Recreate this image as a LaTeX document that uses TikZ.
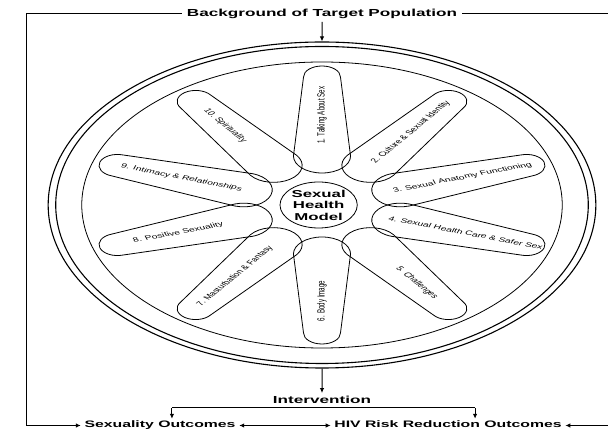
\documentclass[tikz,border=0pt]{standalone}
\usepackage{fontspec}
\setmainfont{Liberation Sans}
\usetikzlibrary{arrows.meta}

\begin{document}
\begin{tikzpicture}[
    x=1pt, y=1pt, xscale=1.68,
    every node/.style={transform shape, inner sep=2pt},
    heading/.style={font=\bfseries\fontsize{10.2}{12}\selectfont, inner sep=3pt},
    outcome/.style={font=\bfseries\fontsize{9.4}{11}\selectfont,
        text height=7pt, text depth=2pt},
    rimline/.style={circle, draw, inner sep=0pt, line width=1.1pt},
    petal/.style={draw, line width=0.8pt},
    petaltext/.style={font=\fontsize{6.2}{7}\selectfont, inner sep=0pt},
    hub/.style={circle, draw, line width=0.8pt, minimum size=46pt, inner sep=0pt,
        align=center, font=\bfseries\fontsize{10}{11.5}\selectfont},
    link/.style={line width=1pt},
    >={Latex[length=5pt,width=4.5pt]}
]
\useasboundingbox (-191.67,-225) rectangle (170.24,205);

% wheel: double rim, inner ring and hub
\node[rimline, minimum size=326pt] (rim) at (0,0) {};
\node[rimline, minimum size=317pt] (rim2) at (0,0) {};
\node[circle, draw, inner sep=0pt, line width=0.8pt, minimum size=286pt] (ring) at (0,0) {};
\node[hub] (hub) at (-2,0) {Sexual\\Health\\Model};

% the ten petals, wide at the hub and narrow at the rim
\foreach \ang/\rot/\tpos/\txt [count=\i] in {
    90/90/90/{1. Talking About Sex},
    54/54/90/{2. Culture \& Sexual Identity},
    18/18/88/{3. Sexual Anatomy Functioning},
    -18/-18/90/{4. Sexual Health Care \& Safer Sex},
    -54/-54/96/{5. Challenges},
    -90/90/96/{6. Body Image},
    -126/54/88/{7. Masturbation \& Fantasy},
    -162/18/90/{8. Positive Sexuality},
    162/-18/88/{9. Intimacy \& Relationships},
    126/-54/98/{10. Spirituality}} {
    \begin{scope}[rotate=\ang]
        \draw[petal] (49,17) -- (128,11) arc[start angle=90, end angle=-90, radius=11]
            -- (49,-17) arc[start angle=270, end angle=90, radius=17] -- cycle;
    \end{scope}
    \node[petaltext, rotate=\rot] (petal\i) at (\ang:\tpos) {\txt};
}

% frame and outcomes
\node[heading] (bg) at (0,191) {Background of Target Population};
\node[heading] (int) at (0,-195) {Intervention};
\node[outcome] (sexout) at (-96.4,-220.5) {Sexuality Outcomes};
\node[outcome] (hivout) at (75,-220.5) {HIV Risk Reduction Outcomes};

\coordinate (frameL) at (-176,0);
\coordinate (frameR) at (179,0);
\coordinate (splitL) at (-89.3,-203);
\coordinate (splitR) at (91.1,-203);

\draw[link,->] (bg) -- (rim.north);
\draw[link,->] (rim.south) -- (int);
\draw[link,->] (bg.west) -| (sexout.west -| frameL) -- (sexout.west);
\draw[link,->] (bg.east) -| (hivout.east -| frameR) -- (hivout.east);
\draw[link] (splitL) -- (splitR);
\draw[link,->] (splitL) -- (splitL |- sexout.north);
\draw[link,->] (splitR) -- (splitR |- hivout.north);
\draw[link,<->] (sexout.east) -- (sexout.east -| hivout.west);

\end{tikzpicture}
\end{document}
